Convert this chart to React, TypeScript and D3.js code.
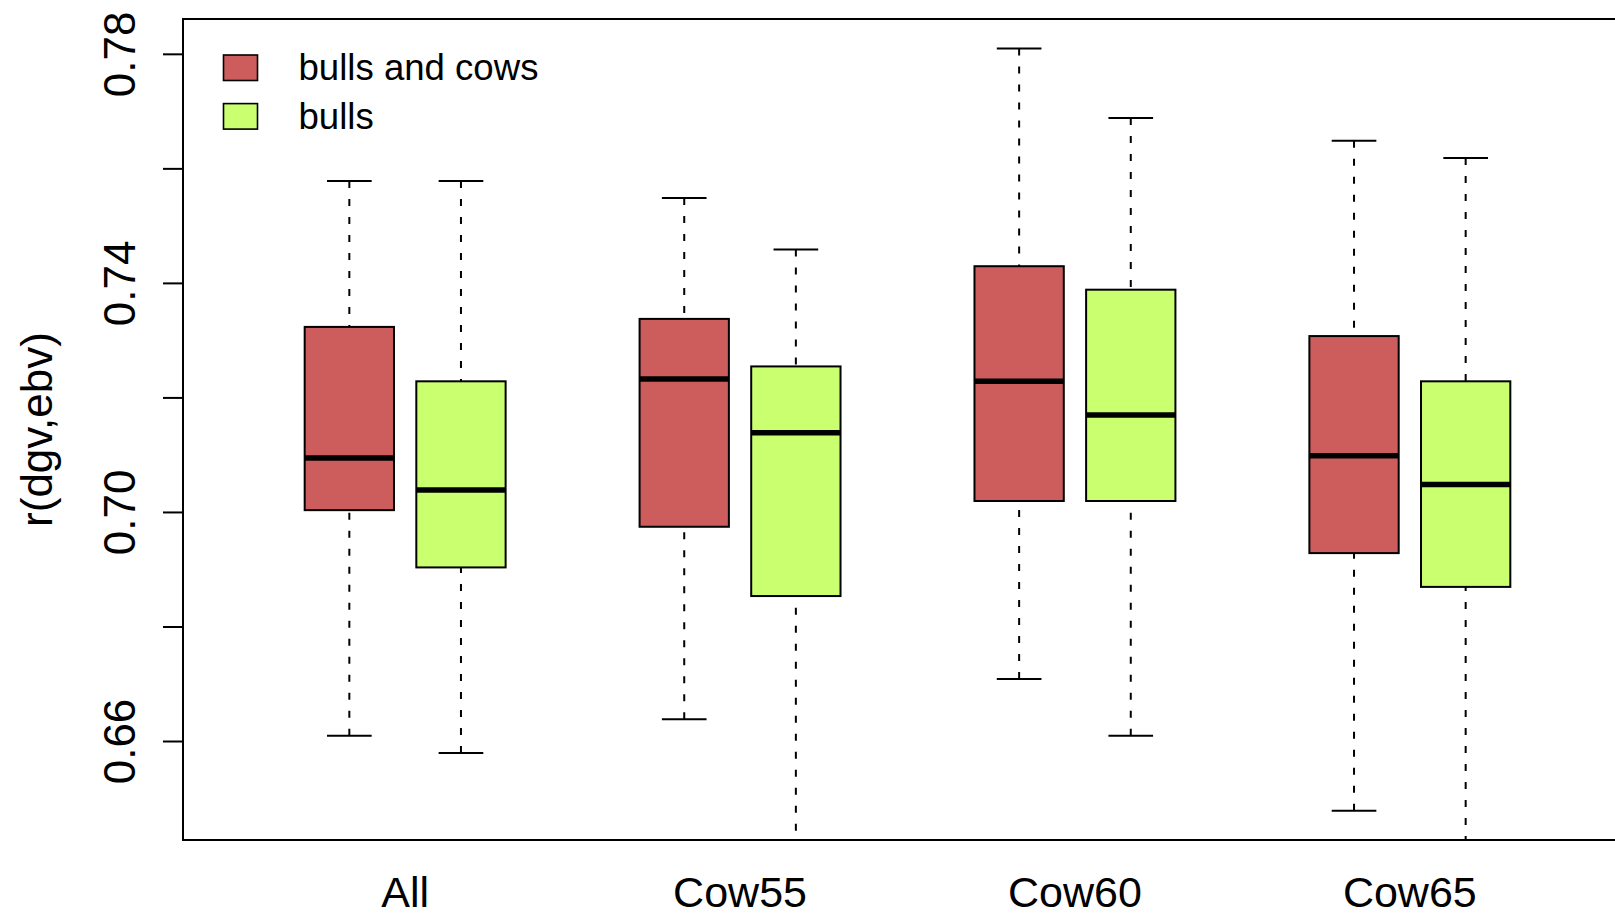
import React from "react";
import * as d3 from "d3";

// Groups along the x axis and the two series drawn in each group
const groups = ["All", "Cow55", "Cow60", "Cow65"];
const seriesNames = ["bulls and cows", "bulls"];
const seriesColors = ["#CD5C5C", "#CAFF70"];

// Five-number summaries for "bulls and cows"
const bothMin = [0.661, 0.6639, 0.6709, 0.6479];
const bothQ1 = [0.7004, 0.6975, 0.702, 0.6929];
const bothMedian = [0.7095, 0.7233, 0.7229, 0.7099];
const bothQ3 = [0.7324, 0.7338, 0.743, 0.7308];
const bothMax = [0.7579, 0.7549, 0.781, 0.7649];

// Five-number summaries for "bulls"
const bullsMin = [0.658, 0.635, 0.661, 0.636];
const bullsQ1 = [0.6904, 0.6854, 0.702, 0.687];
const bullsMedian = [0.7039, 0.7139, 0.717, 0.7049];
const bullsQ3 = [0.7229, 0.7255, 0.7389, 0.7229];
const bullsMax = [0.7579, 0.7459, 0.7689, 0.7619];

// Y axis ticks; only every other one carries a label
const yTicks = [0.66, 0.68, 0.7, 0.72, 0.74, 0.76, 0.78];
const yTickLabels = ["0.66", "0.70", "0.74", "0.78"];

const W = 1615;
const H = 918;
const left = 183;
const top = 19;
const bottom = 840;
const right = 1632;

const FONT = "'Liberation Sans', Arial, Helvetica, sans-serif";

export default function App() {
  const x = d3.scaleLinear().domain([-0.49, 12.49]).range([left, right]);
  const y = d3.scaleLinear().domain([0.6428, 0.78617]).range([bottom, top]);

  const unit = x(1) - x(0);
  const boxW = unit * 0.8;
  const capW = boxW * 0.5;

  const stats = [
    { min: bothMin, q1: bothQ1, med: bothMedian, q3: bothQ3, max: bothMax },
    { min: bullsMin, q1: bullsQ1, med: bullsMedian, q3: bullsQ3, max: bullsMax },
  ];

  const boxes: any[] = [];
  groups.forEach((g, gi) => {
    stats.forEach((s, si) => {
      const pos = gi * 3 + 1 + si;
      boxes.push({
        key: `${g}-${si}`,
        cx: x(pos),
        color: seriesColors[si],
        min: s.min[gi],
        q1: s.q1[gi],
        med: s.med[gi],
        q3: s.q3[gi],
        max: s.max[gi],
      });
    });
  });

  return (
    <svg
      width={W}
      height={H}
      style={{ position: "absolute", left: 0, top: 0, background: "#fff" }}
      fontFamily={FONT}
    >
      <defs>
        <clipPath id="plotArea">
          <rect x={left} y={top} width={right - left} height={bottom - top} />
        </clipPath>
      </defs>

      <g clipPath="url(#plotArea)">
        {boxes.map((b) => (
          <g key={b.key}>
            {/* whiskers, drawn from the whisker end toward the box */}
            <line x1={b.cx} x2={b.cx} y1={y(b.max)} y2={y(b.q3)} stroke="#000" strokeWidth={2} strokeDasharray="7 11" />
            <line x1={b.cx} x2={b.cx} y1={y(b.min)} y2={y(b.q1)} stroke="#000" strokeWidth={2} strokeDasharray="7 11" />
            <line x1={b.cx - capW / 2} x2={b.cx + capW / 2} y1={y(b.max)} y2={y(b.max)} stroke="#000" strokeWidth={2} />
            <line x1={b.cx - capW / 2} x2={b.cx + capW / 2} y1={y(b.min)} y2={y(b.min)} stroke="#000" strokeWidth={2} />
            {/* box */}
            <rect
              x={b.cx - boxW / 2}
              y={y(b.q3)}
              width={boxW}
              height={y(b.q1) - y(b.q3)}
              fill={b.color}
              stroke="#000"
              strokeWidth={2}
            />
            {/* median */}
            <line x1={b.cx - boxW / 2} x2={b.cx + boxW / 2} y1={y(b.med)} y2={y(b.med)} stroke="#000" strokeWidth={5.5} />
          </g>
        ))}
      </g>

      {/* frame */}
      <rect x={left} y={top} width={right - left} height={bottom - top} fill="none" stroke="#000" strokeWidth={2} />

      {/* y axis ticks */}
      {yTicks.map((t) => (
        <line key={t} x1={left - 20} x2={left} y1={y(t)} y2={y(t)} stroke="#000" strokeWidth={2} />
      ))}
      {yTickLabels.map((l) => (
        <text
          key={l}
          transform={`translate(135, ${y(+l)}) rotate(-90)`}
          textAnchor="middle"
          fontSize={44}
          fill="#000"
        >
          {l}
        </text>
      ))}

      {/* y axis title */}
      <text
        transform={`translate(52, ${(top + bottom) / 2}) rotate(-90)`}
        textAnchor="middle"
        fontSize={44}
        fill="#000"
      >
        r(dgv,ebv)
      </text>

      {/* group labels */}
      {groups.map((g, gi) => (
        <text key={g} x={x(gi * 3 + 1.5)} y={907} textAnchor="middle" fontSize={43} fill="#000">
          {g}
        </text>
      ))}

      {/* legend */}
      {seriesNames.map((n, i) => (
        <g key={n}>
          <rect
            x={223.5}
            y={55 + i * 48.6}
            width={34}
            height={25.5}
            fill={seriesColors[i]}
            stroke="#000"
            strokeWidth={1.6}
          />
          <text x={298.5} y={80 + i * 48.6} fontSize={36.6} fill="#000">
            {n}
          </text>
        </g>
      ))}
    </svg>
  );
}
